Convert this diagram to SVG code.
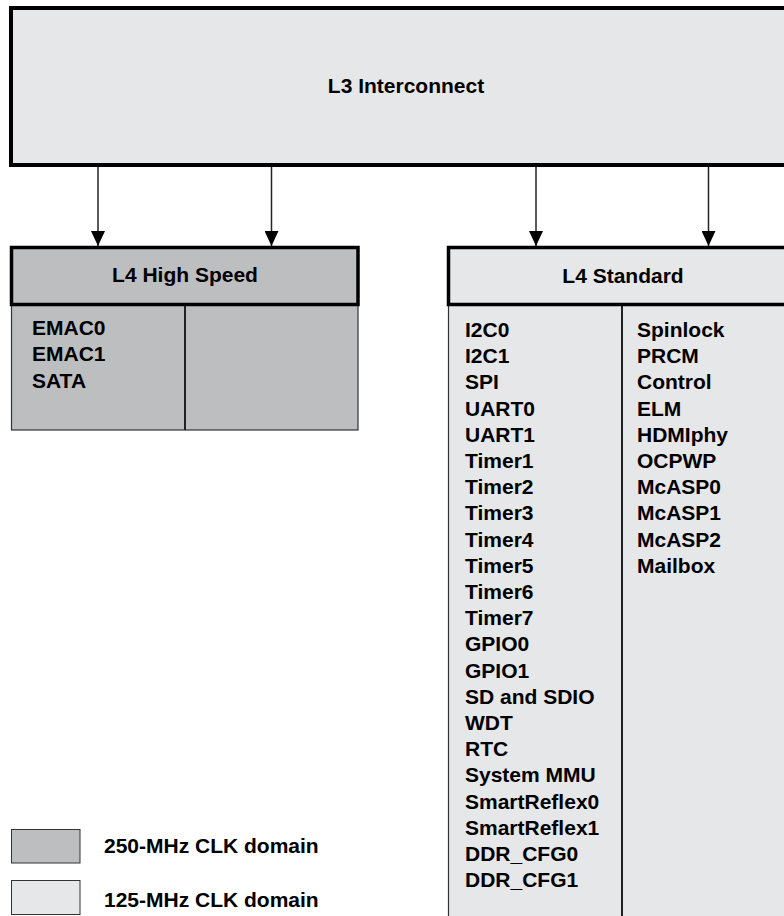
<svg xmlns="http://www.w3.org/2000/svg" width="784" height="916" viewBox="0 0 784 916">
<style>
.t{font-family:"Liberation Sans",Arial,sans-serif;font-weight:bold;font-size:21px;fill:#000}
.c{text-anchor:middle}
.hdr{stroke:#000;stroke-width:3.5}
.body{stroke:#333;stroke-width:1.2}
.div{stroke:#222;stroke-width:2}
.dark{fill:#bcbec0}
.light{fill:#e6e7e8}
.wire{stroke:#222;stroke-width:1.5;fill:none}
</style>
<defs>
<marker id="ah" markerWidth="16" markerHeight="14" refX="15" refY="7" orient="auto" markerUnits="userSpaceOnUse">
<path d="M0,0 L15,7 L0,14 Z" fill="#000"/>
</marker>
</defs>
<rect width="784" height="916" fill="#fff"/>
<g id="l3">
<rect class="light" x="11" y="8" width="790" height="157" stroke="#000" stroke-width="4"/>
<text class="t c" x="406" y="93">L3 Interconnect</text>
</g>
<g id="connectors">
<line class="wire" x1="98" y1="167" x2="98" y2="246" marker-end="url(#ah)"/>
<line class="wire" x1="271.5" y1="167" x2="271.5" y2="246" marker-end="url(#ah)"/>
<line class="wire" x1="536" y1="167" x2="536" y2="246" marker-end="url(#ah)"/>
<line class="wire" x1="708.5" y1="167" x2="708.5" y2="246" marker-end="url(#ah)"/>
</g>
<g id="l4hs">
<rect class="dark body" x="11.5" y="304.5" width="346.5" height="125.5"/>
<line class="div" x1="185" y1="305" x2="185" y2="430"/>
<rect class="dark hdr" x="11.5" y="247.5" width="346.5" height="57"/>
<text class="t c" x="185" y="282">L4 High Speed</text>
<text class="t" x="32" y="335">EMAC0</text>
<text class="t" x="32" y="361">EMAC1</text>
<text class="t" x="32" y="388">SATA</text>
</g>
<g id="l4std">
<rect class="light body" x="448.5" y="304.5" width="360" height="620"/>
<line class="div" x1="622" y1="305" x2="622" y2="916"/>
<rect class="light hdr" x="448.5" y="247.5" width="360" height="57"/>
<text class="t c" x="623" y="283">L4 Standard</text>
<g class="t">
<text x="465" y="337">I2C0</text>
<text x="465" y="363.2">I2C1</text>
<text x="465" y="389.4">SPI</text>
<text x="465" y="415.6">UART0</text>
<text x="465" y="441.8">UART1</text>
<text x="465" y="468">Timer1</text>
<text x="465" y="494.2">Timer2</text>
<text x="465" y="520.4">Timer3</text>
<text x="465" y="546.6">Timer4</text>
<text x="465" y="572.8">Timer5</text>
<text x="465" y="599">Timer6</text>
<text x="465" y="625.2">Timer7</text>
<text x="465" y="651.4">GPIO0</text>
<text x="465" y="677.6">GPIO1</text>
<text x="465" y="703.8">SD and SDIO</text>
<text x="465" y="730">WDT</text>
<text x="465" y="756.2">RTC</text>
<text x="465" y="782.4">System MMU</text>
<text x="465" y="808.6">SmartReflex0</text>
<text x="465" y="834.8">SmartReflex1</text>
<text x="465" y="861">DDR_CFG0</text>
<text x="465" y="887.2">DDR_CFG1</text>
<text x="637" y="337">Spinlock</text>
<text x="637" y="363.2">PRCM</text>
<text x="637" y="389.4">Control</text>
<text x="637" y="415.6">ELM</text>
<text x="637" y="441.8">HDMIphy</text>
<text x="637" y="468">OCPWP</text>
<text x="637" y="494.2">McASP0</text>
<text x="637" y="520.4">McASP1</text>
<text x="637" y="546.6">McASP2</text>
<text x="637" y="572.8">Mailbox</text>
</g>
</g>
<g id="legend250">
<rect class="dark" x="11.5" y="829.5" width="68.5" height="33.5" stroke="#333" stroke-width="1"/>
<text class="t" x="104" y="853">250-MHz CLK domain</text>
</g>
<g id="legend125">
<rect class="light" x="11.5" y="880.5" width="68.5" height="34" stroke="#333" stroke-width="1"/>
<text class="t" x="104" y="907">125-MHz CLK domain</text>
</g>
</svg>
